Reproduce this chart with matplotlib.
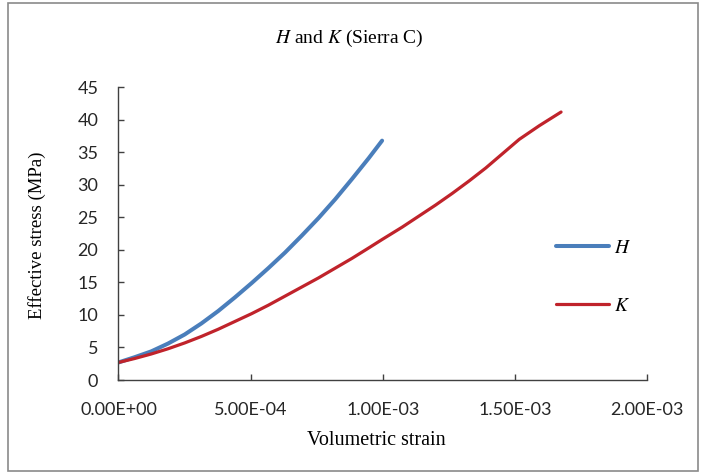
import matplotlib
matplotlib.use("Agg")
import matplotlib.pyplot as plt
from matplotlib.patches import Rectangle
from matplotlib.ticker import FuncFormatter, MultipleLocator

# values
h_strain = [0, 6.08e-5, 1.24e-4, 1.873e-4, 2.506e-4, 3.139e-4, 3.772e-4, 4.405e-4,
            5.038e-4, 5.671e-4, 6.304e-4, 6.937e-4, 7.57e-4, 8.203e-4, 8.835e-4,
            9.468e-4, 9.975e-4]
h_stress = [2.7, 3.5, 4.4, 5.6, 7.0, 8.7, 10.6, 12.7,
            14.9, 17.2, 19.6, 22.2, 24.9, 27.8, 30.9,
            34.1, 36.8]

k_strain = [0, 6.08e-5, 1.24e-4, 1.873e-4, 2.506e-4, 3.139e-4, 3.772e-4, 4.405e-4,
            5.038e-4, 5.671e-4, 6.304e-4, 6.937e-4, 7.57e-4, 8.203e-4, 8.835e-4,
            9.468e-4, 9.975e-4, 1.0734e-3, 1.1367e-3, 1.2e-3, 1.2633e-3, 1.3266e-3,
            1.3899e-3, 1.4532e-3, 1.5165e-3, 1.5924e-3, 1.6747e-3]
k_stress = [2.7, 3.3, 4.0, 4.8, 5.7, 6.7, 7.8, 9.0,
            10.2, 11.5, 12.9, 14.3, 15.7, 17.2, 18.7,
            20.3, 21.6, 23.5, 25.2, 26.9, 28.7, 30.6,
            32.6, 34.8, 37.0, 39.1, 41.2]

serif = "Liberation Serif"
tick_font = "Lato"

fig = plt.figure(figsize=(7.01, 4.73), dpi=100)
ax = fig.add_axes([0.169, 0.1966, 0.754, 0.6188])

ax.plot(h_strain, h_stress, color="#4a7ebb", lw=2.9, label="$H$", solid_capstyle="round")
ax.plot(k_strain, k_stress, color="#c0232b", lw=2.3, label="$K$", solid_capstyle="round")

ax.set_xlim(0, 2e-3)
ax.set_ylim(0, 45)
ax.xaxis.set_major_locator(MultipleLocator(5e-4))
ax.yaxis.set_major_locator(MultipleLocator(5))
ax.xaxis.set_major_formatter(FuncFormatter(lambda v, p: f"{v:.2E}"))

for s in ["top", "right"]:
    ax.spines[s].set_visible(False)
for s in ["left", "bottom"]:
    ax.spines[s].set_color("#404040")
    ax.spines[s].set_linewidth(1.0)

ax.tick_params(direction="in", length=4, width=1.0, color="#404040",
               labelsize=13, labelcolor="#262626")
ax.tick_params(axis="x", pad=16)
ax.tick_params(axis="y", pad=14.5)
for lab in ax.get_xticklabels() + ax.get_yticklabels():
    lab.set_fontfamily(tick_font)

fig.text(0.499, 1 - 38 / 473, "$\\it{H}$ and $\\it{K}$ (Sierra C)", ha="center", va="center",
         fontsize=14, family=serif, math_fontfamily="stix")
ax.set_xlabel("Volumetric strain", fontsize=14.5, family=serif, va="center")
ax.set_ylabel("Effective stress (MPa)", fontsize=13.5, family=serif, va="center")
ax.xaxis.set_label_coords(0.487, -0.205)
ax.yaxis.set_label_coords(-0.154, 0.495)

leg = ax.legend(loc="center left", bbox_to_anchor=(556 / 701, 1 - 277 / 473),
                bbox_transform=fig.transFigure, frameon=False, borderpad=0,
                borderaxespad=0, handlelength=2.7, handletextpad=0.3,
                labelspacing=2.1, prop={"family": serif, "size": 14})
for t in leg.get_texts():
    t.set_math_fontfamily("stix")

fig.patches.append(Rectangle((8 / 701, 2 / 473), 690 / 701, 468 / 473,
                             transform=fig.transFigure, fill=False,
                             edgecolor="#8a8a8a", lw=1.2))

fig.savefig("out.png", dpi=100)
